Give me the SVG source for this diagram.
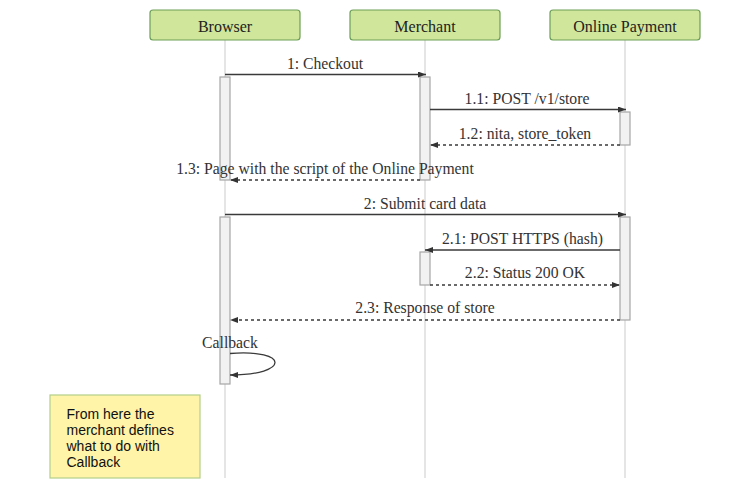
<svg xmlns="http://www.w3.org/2000/svg" width="750" height="489" viewBox="0 0 750 489">
<style>
.hdr{fill:#d0e69b;stroke:#6c9f56;stroke-width:1.2}
.ht{font-family:"Liberation Serif",serif;font-size:16px;fill:#222;text-anchor:middle}
.life{stroke:#dcdcdc;stroke-width:1.5;fill:none}
.act{fill:#f2f2f2;stroke:#a6a6a6;stroke-width:1.2}
.msg{stroke:#3a3a3a;stroke-width:1.3;fill:none;marker-end:url(#ah)}
.ret{stroke-dasharray:3 3}
.ml{font-family:"Liberation Serif",serif;font-size:15.7px;fill:#333;text-anchor:middle}
.note{fill:#fff4a8;stroke:#b3cf89;stroke-width:1.2}
.nt{font-family:"Liberation Sans",Arial,sans-serif;font-size:14px;fill:#111}
</style>
<defs>
<marker id="ah" markerUnits="userSpaceOnUse" markerWidth="9" markerHeight="7" refX="8" refY="3" orient="auto">
<path d="M0,0 L8,3 L0,6 z" fill="#333"/>
</marker>
</defs>
<g id="lifelines">
<line class="life" x1="225" y1="40" x2="225" y2="478"/>
<line class="life" x1="425" y1="40" x2="425" y2="478"/>
<line class="life" x1="625" y1="40" x2="625" y2="478"/>
</g>
<g id="browser"><rect class="hdr" x="150" y="10" width="150" height="30" rx="3"/><text class="ht" x="225" y="31.5">Browser</text></g>
<g id="merchant"><rect class="hdr" x="350" y="10" width="150" height="30" rx="3"/><text class="ht" x="425" y="31.5">Merchant</text></g>
<g id="online-payment"><rect class="hdr" x="550" y="10" width="150" height="30" rx="3"/><text class="ht" x="625" y="31.5">Online Payment</text></g>
<g id="activations">
<rect class="act" x="220" y="77" width="10" height="103"/>
<rect class="act" x="420" y="77" width="10" height="103"/>
<rect class="act" x="620" y="112" width="10" height="33"/>
<rect class="act" x="220" y="217" width="10" height="167"/>
<rect class="act" x="620" y="217" width="10" height="103"/>
<rect class="act" x="420" y="252" width="10" height="33"/>
</g>
<g id="connectors">
<line class="msg" x1="225" y1="74.5" x2="426" y2="74.5"/>
<text class="ml" x="325" y="68.5">1: Checkout</text>
<line class="msg" x1="430" y1="109.5" x2="626" y2="109.5"/>
<text class="ml" x="527" y="103.5">1.1: POST /v1/store</text>
<line class="msg ret" x1="620" y1="145" x2="430" y2="145"/>
<text class="ml" x="525" y="138.5">1.2: nita, store_token</text>
<line class="msg ret" x1="420" y1="180" x2="230" y2="180"/>
<text class="ml" x="325" y="174">1.3: Page with the script of the Online Payment</text>
<line class="msg" x1="225" y1="214.5" x2="626" y2="214.5"/>
<text class="ml" x="425" y="208.5">2: Submit card data</text>
<line class="msg" x1="620" y1="250" x2="425" y2="250"/>
<text class="ml" x="522.5" y="243.5">2.1: POST HTTPS (hash)</text>
<line class="msg ret" x1="430" y1="285" x2="620" y2="285"/>
<text class="ml" x="525" y="277.5">2.2: Status 200 OK</text>
<line class="msg ret" x1="620" y1="320" x2="230" y2="320"/>
<text class="ml" x="425" y="313">2.3: Response of store</text>
<path class="msg" d="M230,353.5 C290,349 290,375 230,375"/>
<text class="ml" x="230" y="347.5">Callback</text>
</g>
<g id="note">
<rect class="note" x="50" y="395" width="150" height="83"/>
<text class="nt" x="66.5" y="418.5">From here the</text>
<text class="nt" x="66.5" y="434.5">merchant defines</text>
<text class="nt" x="66.5" y="450.5">what to do with</text>
<text class="nt" x="66.5" y="466.5">Callback</text>
</g>
</svg>
